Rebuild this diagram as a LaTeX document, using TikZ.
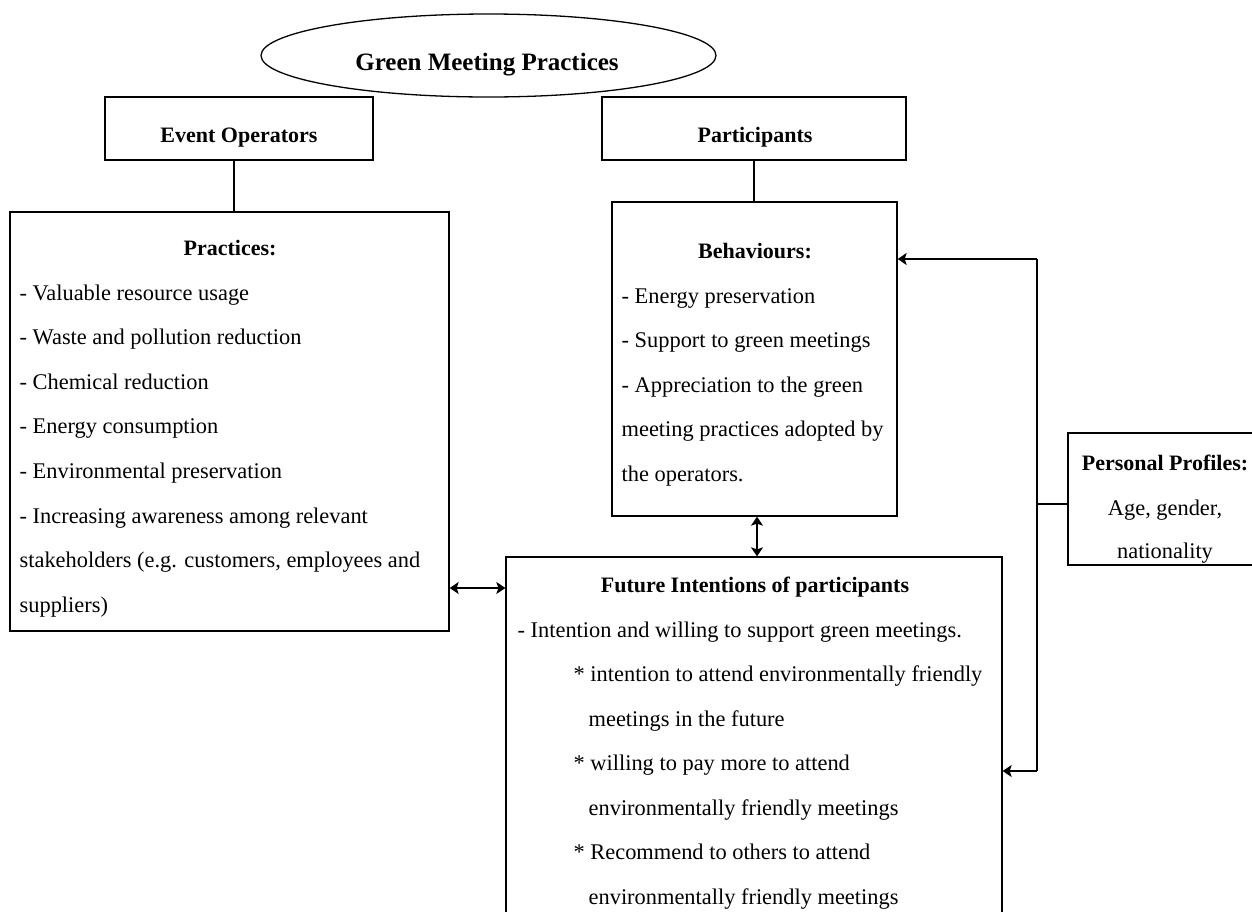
\documentclass[tikz,border=0pt]{standalone}
\usepackage{fontspec}
\setmainfont{Liberation Serif}
\usetikzlibrary{arrows.meta,shapes.geometric}
\begin{document}
\begin{tikzpicture}[x=1pt,y=-1pt,line width=1.3pt,
  boxstyle/.style={draw,rectangle,inner sep=0pt},
  txt/.style={anchor=base west,inner sep=0pt,font=\fontsize{22.4}{26}\selectfont},
  ctxt/.style={anchor=base,inner sep=0pt,font=\fontsize{22.4}{26}\selectfont},
  hd/.style={anchor=base,inner sep=0pt,font=\fontsize{22}{26}\selectfont\bfseries},
  tip/.tip={Stealth[length=9pt,width=12pt,inset=2pt]},
  arr/.style={-tip},
  darr/.style={tip-tip}]
\useasboundingbox (0,0) rectangle (1252,911);
\clip (0,0) rectangle (1252,911);
% title ellipse
\node[draw,ellipse,inner sep=0pt,minimum width=455pt,minimum height=83pt] (gmp) at (488.5,55.5) {};
\node[anchor=base,inner sep=0pt,font=\fontsize{25}{28}\selectfont\bfseries] (gmpt) at (487,70) {Green Meeting Practices};
% boxes
\node[boxstyle,minimum width=268pt,minimum height=63pt] (evop) at (239,128.5) {};
\node[boxstyle,minimum width=304pt,minimum height=63pt] (part) at (754,128.5) {};
\node[boxstyle,minimum width=439pt,minimum height=419pt] (prac) at (229.5,421.5) {};
\node[boxstyle,minimum width=285pt,minimum height=314pt] (beh) at (754.5,359) {};
\node[boxstyle,minimum width=496pt,minimum height=383pt] (fut) at (754,748.5) {};
\node[boxstyle,minimum width=202pt,minimum height=132pt] (pp) at (1169,499) {};
% headings
\node[hd] (evopt) at (239,142) {Event Operators};
\node[hd] (partt) at (755,142) {Participants};
\node[hd] (pract) at (230,255) {Practices:};
\node[hd] (beht) at (755,258) {Behaviours:};
\node[hd] (futt) at (755,592) {Future Intentions of participants};
\node[hd] (ppt) at (1165,470) {Personal Profiles:};
% practices list
\node[txt] (p1) at (19,300) {- Valuable resource usage};
\node[txt] (p2) at (19,344.6) {- Waste and pollution reduction};
\node[txt] (p3) at (19,389.2) {- Chemical reduction};
\node[txt] (p4) at (19,433.8) {- Energy consumption};
\node[txt] (p5) at (19,478.4) {- Environmental preservation};
\node[txt] (p6) at (19,523) {- Increasing awareness among relevant};
\node[txt] (p7) at (19,567.6) {stakeholders (e.g. customers, employees and};
\node[txt] (p8) at (19,612.2) {suppliers)};
% behaviours list
\node[txt] (b1) at (621,303) {- Energy preservation};
\node[txt] (b2) at (621,347.6) {- Support to green meetings};
\node[txt] (b3) at (621,392.2) {- Appreciation to the green};
\node[txt] (b4) at (621,436.8) {meeting practices adopted by};
\node[txt] (b5) at (621,481.4) {the operators.};
% future list
\node[txt] (f1) at (517,637) {- Intention and willing to support green meetings.};
\node[txt] (f2) at (573,681.5) {* intention to attend environmentally friendly};
\node[txt] (f3) at (588,726) {meetings in the future};
\node[txt] (f4) at (573,770.5) {* willing to pay more to attend};
\node[txt] (f5) at (588,815) {environmentally friendly meetings};
\node[txt] (f6) at (573,859.5) {* Recommend to others to attend};
\node[txt] (f7) at (588,904) {environmentally friendly meetings};
% personal profiles
\node[ctxt] (pp1) at (1165,515) {Age, gender,};
\node[ctxt] (pp2) at (1165,558) {nationality};
% connectors
\draw ([xshift=-5pt]evop.south) -- ([xshift=-5pt]evop.south |- prac.north);
\draw (part.south) -- (part.south |- beh.north);
\draw[darr] ([xshift=2.5pt]beh.south) -- ([xshift=2.5pt]beh.south |- fut.north);
\coordinate (hy) at (0,588);
\draw[darr] (prac.east |- hy) -- (fut.west |- hy);
\coordinate (bustop) at (1037,259);
\coordinate (busbot) at (1037,771);
\coordinate (ppy) at (1037,504);
\draw (bustop) -- (busbot);
\draw[arr] (bustop) -- (beh.east |- bustop);
\draw[arr] (busbot) -- (fut.east |- busbot);
\draw (pp.west |- ppy) -- (ppy);
\end{tikzpicture}
\end{document}
